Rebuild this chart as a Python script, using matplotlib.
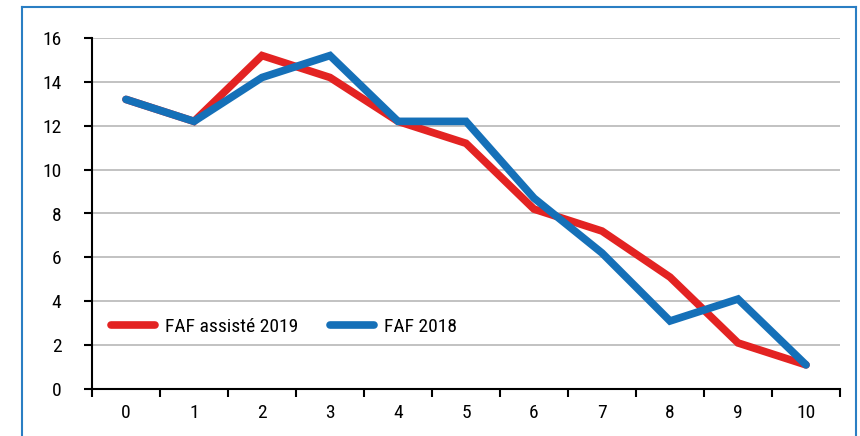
import matplotlib
matplotlib.use("Agg")
import matplotlib.pyplot as plt
from matplotlib.lines import Line2D

categories = [0, 1, 2, 3, 4, 5, 6, 7, 8, 9, 10]
faf_assiste_2019 = [13.2, 12.2, 15.2, 14.2, 12.2, 11.2, 8.2, 7.2, 5.1, 2.1, 1.1]
faf_2018 = [13.2, 12.2, 14.2, 15.2, 12.2, 12.2, 8.7, 6.2, 3.1, 4.1, 1.1]
y_ticks = [0, 2, 4, 6, 8, 10, 12, 14, 16]

plt.rcParams['font.family'] = ['Liberation Sans Narrow', 'Roboto Condensed', 'Archivo Narrow',
                               'Liberation Sans', 'DejaVu Sans']

W, H = 860, 436
fig = plt.figure(figsize=(W / 100, H / 100), dpi=100)
ax = fig.add_axes([92 / W, 1 - 389 / H, (840 - 92) / W, (389 - 38) / H])

x = list(range(len(categories)))
ax.plot(x, faf_assiste_2019, color='#e32322', lw=5.5, solid_capstyle='round',
        solid_joinstyle='miter', label='FAF assisté 2019', zorder=3)
ax.plot(x, faf_2018, color='#1570b8', lw=5.5, solid_capstyle='round',
        solid_joinstyle='miter', label='FAF 2018', zorder=4)

ax.set_xlim(-0.5, len(categories) - 0.5)
ax.set_ylim(0, 16)
ax.set_yticks(y_ticks)
ax.set_yticklabels([str(v) for v in y_ticks], fontsize=14)
ax.set_xticks(x)
ax.set_xticklabels([str(c) for c in categories], fontsize=14)
ax.set_xticks([i - 0.5 for i in range(len(categories) + 1)], minor=True)
ax.tick_params(axis='x', which='major', length=0, pad=11)
ax.tick_params(axis='x', which='minor', length=6, width=1.5, color='black', direction='out')
ax.tick_params(axis='y', length=6, width=1.5, color='black', direction='out', pad=16)

ax.grid(axis='y', color='#b8b8b8', lw=1.2)
ax.set_axisbelow(True)
for s in ['top', 'right']:
    ax.spines[s].set_visible(False)
ax.spines['left'].set_linewidth(1.5)
ax.spines['bottom'].set_linewidth(1.5)

leg = ax.legend(loc='center left', ncol=2, frameon=False,
                fontsize=14, handlelength=2.25, handletextpad=0.55, columnspacing=1.6,
                borderaxespad=0.0, borderpad=0.0)
leg.set_bbox_to_anchor((19 / (840 - 92), 0.178), transform=ax.transAxes)

# figure border (left, top, right)
bc = '#2a7ec3'
fig.add_artist(Line2D([22 / W, 22 / W], [0, 1 - 7 / H], color=bc, lw=1.5))
fig.add_artist(Line2D([22 / W, 856 / W], [1 - 7 / H, 1 - 7 / H], color=bc, lw=1.5))
fig.add_artist(Line2D([856 / W, 856 / W], [0, 1 - 7 / H], color=bc, lw=1.5))

fig.savefig('out.png', dpi=100)
